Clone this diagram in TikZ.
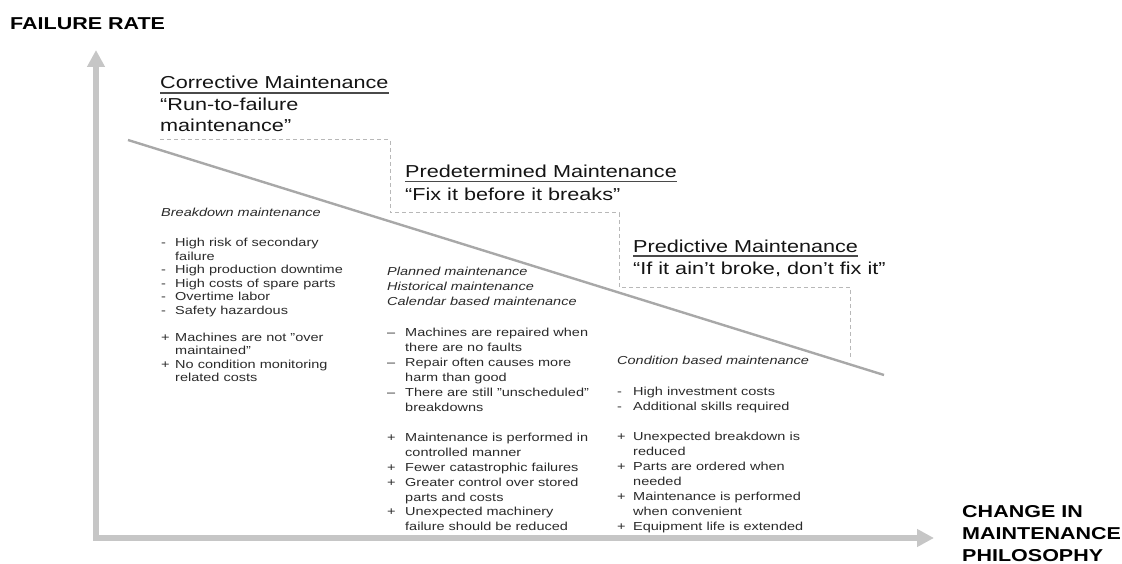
\documentclass[tikz,border=0pt]{standalone}
\usepackage{fontspec}
\setmainfont{Liberation Sans}[FakeStretch=1.25]
\usetikzlibrary{arrows.meta}
\definecolor{axisgray}{HTML}{C6C6C6}
\definecolor{diaggray}{HTML}{A8A8A8}
\definecolor{dashgray}{HTML}{B8B8B8}
\definecolor{txt}{HTML}{2A2A2A}
\definecolor{hdtxt}{HTML}{141414}
\definecolor{ulgray}{HTML}{4A4A4A}
\begin{document}
\begin{tikzpicture}[x=1pt,y=-1pt,
  axis/.style={draw=axisgray,line width=5.5pt,-{Triangle[length=17pt,width=17pt]}},
  diag/.style={draw=diaggray,line width=2.4pt},
  stair/.style={draw=dashgray,line width=1pt,dash pattern=on 4pt off 3pt},
  ul/.style={draw=ulgray,line width=1.6pt},
  hd/.style={anchor=base west,inner sep=0pt,text=hdtxt,font=\fontsize{17.3}{22}\selectfont},
  lab/.style={anchor=base west,inner sep=0pt,text=black,font=\fontsize{17.2}{22}\selectfont\bfseries},
  smA/.style={anchor=base west,inner sep=0pt,text=txt,font=\fontsize{11.6}{13.5}\selectfont},
  smB/.style={anchor=base west,inner sep=0pt,text=txt,font=\fontsize{11.6}{15}\selectfont}]
\useasboundingbox (0,0) rectangle (1122,564);

% axes
\coordinate (o) at (96,538);
\coordinate (ytip) at (96,50);
\coordinate (xtip) at (934,538);
\coordinate (ostart) at (93,538);
\draw[axis] (o) -- (ytip);
\draw[axis] (ostart) -- (xtip);

\node[lab] (ylab) at (10,30) {FAILURE RATE};
\node[lab] (xlab1) at (962,517.5) {CHANGE IN};
\node[lab] (xlab2) at (962,539.5) {MAINTENANCE};
\node[lab] (xlab3) at (962,561) {PHILOSOPHY};

% diagonal failure-rate line
\coordinate (d1) at (128,140);
\coordinate (d2) at (884,375);
\draw[diag] (d1) -- (d2);

% dashed staircase
\coordinate (s0) at (160,140);
\coordinate (s1) at (390,140);
\coordinate (s2) at (390,213);
\coordinate (s3) at (619,213);
\coordinate (s4) at (619,287);
\coordinate (s5) at (850,287);
\coordinate (s6) at (850,360);
\draw[stair] (s0) -- (s1) -- (s2) -- (s3) -- (s4) -- (s5) -- (s6);

% headings
\node[hd] (cm1) at (160,89) {Corrective Maintenance};
\node[hd] (cm2) at (160,111) {“Run-to-failure};
\node[hd] (cm3) at (160,132) {maintenance”};
\draw[ul] ([yshift=-4pt]cm1.base west) -- ([yshift=-4pt]cm1.base east);

\node[hd] (pd1) at (405,177.5) {Predetermined Maintenance};
\node[hd] (pd2) at (405,201) {“Fix it before it breaks”};
\draw[ul] ([yshift=-4pt]pd1.base west) -- ([yshift=-4pt]pd1.base east);

\node[hd] (pr1) at (633,252) {Predictive Maintenance};
\node[hd] (pr2) at (633,275) {“If it ain’t broke, don’t fix it”};
\draw[ul] ([yshift=-4pt]pr1.base west) -- ([yshift=-4pt]pr1.base east);

% column 1
\node[smA] (c1h) at (161,216.7) {\itshape Breakdown maintenance};
\node[smA] (c1) at (161,246.7) {\begin{tabular}[t]{@{}p{14pt}@{}l@{}}
-&High risk of secondary\\
&failure\\
-&High production downtime\\
-&High costs of spare parts\\
-&Overtime labor\\
-&Safety hazardous\\
&\\
+&Machines are not "over\\
&maintained"\\
+&No condition monitoring\\
&related costs
\end{tabular}};

% column 2
\node[smB] (c2h) at (387,276) {\itshape\begin{tabular}[t]{@{}l@{}}
Planned maintenance\\
Historical maintenance\\
Calendar based maintenance
\end{tabular}};
\node[smB] (c2) at (387,336) {\begin{tabular}[t]{@{}p{18pt}@{}l@{}}
–&Machines are repaired when\\
&there are no faults\\
–&Repair often causes more\\
&harm than good\\
–&There are still "unscheduled"\\
&breakdowns\\
&\\
+&Maintenance is performed in\\
&controlled manner\\
+&Fewer catastrophic failures\\
+&Greater control over stored\\
&parts and costs\\
+&Unexpected machinery\\
&failure should be reduced
\end{tabular}};

% column 3
\node[smB] (c3h) at (617,364) {\itshape Condition based maintenance};
\node[smB] (c3) at (617,395) {\begin{tabular}[t]{@{}p{16pt}@{}l@{}}
-&High investment costs\\
-&Additional skills required\\
&\\
+&Unexpected breakdown is\\
&reduced\\
+&Parts are ordered when\\
&needed\\
+&Maintenance is performed\\
&when convenient\\
+&Equipment life is extended
\end{tabular}};
\end{tikzpicture}
\end{document}
